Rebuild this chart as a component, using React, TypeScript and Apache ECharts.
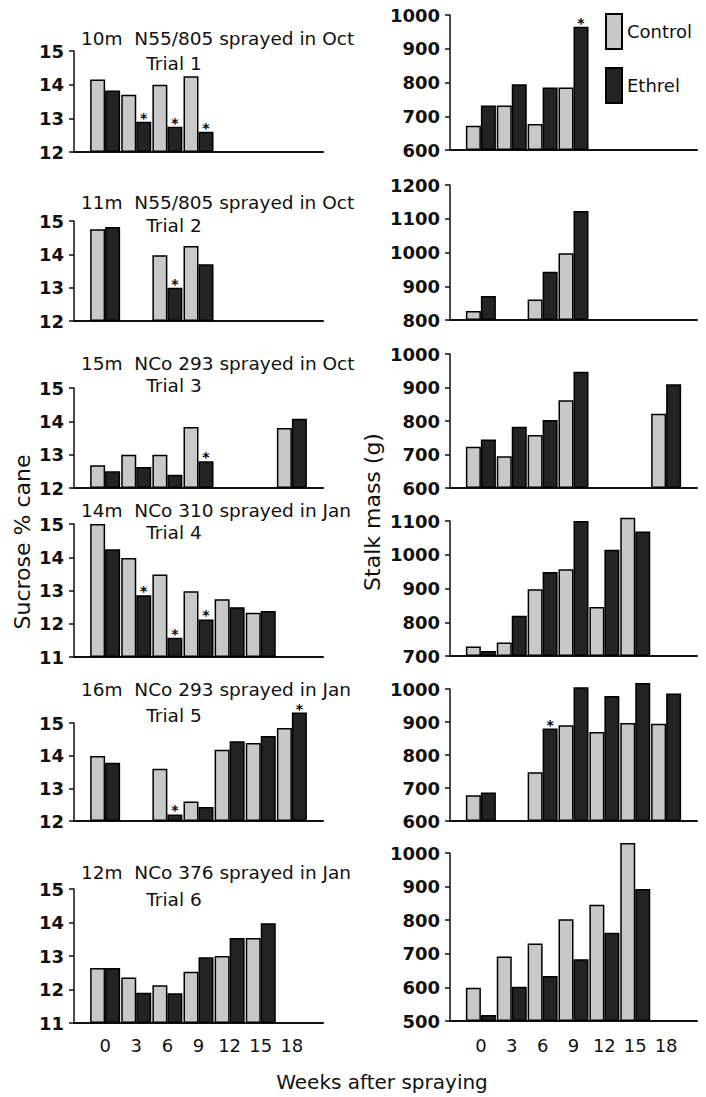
import React, { useEffect, useRef } from "react";
import * as echarts from "echarts";

const weeks = [0, 3, 6, 9, 12, 15, 18];

const trialTitles = [
  "10m  N55/805 sprayed in Oct",
  "11m  N55/805 sprayed in Oct",
  "15m  NCo 293 sprayed in Oct",
  "14m  NCo 310 sprayed in Jan",
  "16m  NCo 293 sprayed in Jan",
  "12m  NCo 376 sprayed in Jan",
];
const trialNames = ["Trial 1", "Trial 2", "Trial 3", "Trial 4", "Trial 5", "Trial 6"];

// Sucrose % cane, one value per week (null = not sampled)
const sucroseControl1 = [14.15, 13.7, 14.0, 14.25, null, null, null];
const sucroseEthrel1 = [13.83, 12.9, 12.75, 12.6, null, null, null];
const sucroseControl2 = [14.75, null, 13.97, 14.25, null, null, null];
const sucroseEthrel2 = [14.82, null, 13.0, 13.7, null, null, null];
const sucroseControl3 = [12.68, 13.0, 13.0, 13.83, null, null, 13.8];
const sucroseEthrel3 = [12.5, 12.63, 12.4, 12.8, null, null, 14.08];
const sucroseControl4 = [15.0, 13.98, 13.48, 12.98, 12.74, 12.33, null];
const sucroseEthrel4 = [14.24, 12.86, 11.58, 12.13, 12.5, 12.38, null];
const sucroseControl5 = [13.99, null, 13.6, 12.6, 14.18, 14.39, 14.85];
const sucroseEthrel5 = [13.78, null, 12.2, 12.43, 14.44, 14.6, 15.32];
const sucroseControl6 = [12.64, 12.36, 12.13, 12.53, 13.0, 13.54, null];
const sucroseEthrel6 = [12.64, 11.9, 11.89, 12.96, 13.54, 13.98, null];

// Stalk mass (g)
const massControl1 = [672, 732, 677, 785, null, null, null];
const massEthrel1 = [732, 795, 785, 965, null, null, null];
const massControl2 = [827, null, 861, 998, null, null, null];
const massEthrel2 = [871, null, 943, 1123, null, null, null];
const massControl3 = [723, 695, 758, 862, null, null, 822];
const massEthrel3 = [745, 783, 803, 947, null, null, 910];
const massControl4 = [728, 740, 898, 957, 845, 1110, null];
const massEthrel4 = [715, 819, 949, 1100, 1015, 1069, null];
const massControl5 = [678, null, 748, 890, 870, 897, 895];
const massEthrel5 = [686, null, 880, 1005, 979, 1018, 986];
const massControl6 = [599, 692, 731, 803, 846, 1030, null];
const massEthrel6 = [518, 602, 634, 684, 763, 893, null];

// weeks at which the Ethrel value is significantly different (*)
const sucroseSig = [[3, 6, 9], [6], [9], [3, 6, 9], [6, 18], []];
const massSig = [[9], [], [], [], [6], []];

// axis ranges [min, max, interval]
const sucroseAxes = [
  [12, 15, 1], [12, 15, 1], [12, 15, 1], [11, 15, 1], [12, 15, 1], [11, 15, 1],
];
const massAxes = [
  [600, 1000, 100], [800, 1200, 100], [600, 1000, 100], [700, 1100, 100], [600, 1000, 100], [500, 1000, 100],
];

const sucroseControl = [sucroseControl1, sucroseControl2, sucroseControl3, sucroseControl4, sucroseControl5, sucroseControl6];
const sucroseEthrel = [sucroseEthrel1, sucroseEthrel2, sucroseEthrel3, sucroseEthrel4, sucroseEthrel5, sucroseEthrel6];
const massControl = [massControl1, massControl2, massControl3, massControl4, massControl5, massControl6];
const massEthrel = [massEthrel1, massEthrel2, massEthrel3, massEthrel4, massEthrel5, massEthrel6];

const FONT = "DejaVu Sans";
const INK = "#111";
const CONTROL_FILL = "#c8c8c8";
const ETHREL_FILL = "#232323";

// layout: [top, bottom] of each plot
const leftBox = [[51, 152], [221, 321], [388, 488], [524, 657], [723, 821], [889, 1023]];
const rightBox = [[15, 150], [185, 320], [354, 488], [521, 656], [689, 821], [853, 1021]];
const titleY = [38, 202, 363, 510, 689, 872];
const trialY = [63, 225, 385, 532, 715, 899];

function buildOption() {
  const grids: any[] = [];
  const xAxes: any[] = [];
  const yAxes: any[] = [];
  const series: any[] = [];

  const addPanel = (
    box: number[], left: number, width: number, range: number[], isBottom: boolean,
    ctrl: (number | null)[], eth: (number | null)[], sig: number[], labelMargin: number
  ) => {
    const idx = grids.length;
    grids.push({ left, top: box[0], width, height: box[1] - box[0] });
    xAxes.push({
      type: "value", gridIndex: idx, min: -3, max: 21, interval: 3,
      axisLine: { show: true, onZero: false, lineStyle: { color: INK, width: 2 } },
      axisTick: { show: false }, splitLine: { show: false },
      axisLabel: {
        show: isBottom, margin: labelMargin, color: INK, fontSize: 18, fontFamily: FONT,
        formatter: (v: number) => (v >= 0 && v <= 18 ? String(v) : ""),
      },
    });
    yAxes.push({
      type: "value", gridIndex: idx, min: range[0], max: range[1], interval: range[2],
      startValue: range[0],
      axisLine: { show: true, onZero: false, lineStyle: { color: INK, width: 1.5 } },
      axisTick: { show: true, inside: false, length: 5, lineStyle: { color: INK, width: 1.5 } },
      splitLine: { show: false },
      axisLabel: {
        margin: 10, color: INK, fontSize: 18, fontWeight: "bold", fontFamily: FONT,
        formatter: (v: number) => String(v),
      },
    });
    const mk = (vals: (number | null)[], withSig: boolean) =>
      weeks
        .map((w, k) => {
          const v = vals[k];
          if (v == null) return null;
          const item: any = { value: [w, v] };
          if (withSig && sig.indexOf(w) >= 0) item.label = { show: true };
          return item;
        })
        .filter((d) => d !== null);
    const common = {
      type: "bar", xAxisIndex: idx, yAxisIndex: idx, barWidth: 15, barGap: "0%", clip: false,
      label: { show: false, position: "top", formatter: "*", distance: -3, fontSize: 14, color: "#000", fontFamily: FONT, fontWeight: "bold" },
    };
    series.push({
      ...common, name: "Control", data: mk(ctrl, false),
      itemStyle: { color: CONTROL_FILL, borderColor: "#000", borderWidth: 1.5 },
    });
    series.push({
      ...common, name: "Ethrel", data: mk(eth, true),
      itemStyle: { color: ETHREL_FILL, borderColor: "#000", borderWidth: 1.5 },
    });
  };

  for (let i = 0; i < 6; i++) {
    addPanel(leftBox[i], 74, 249, sucroseAxes[i], i === 5, sucroseControl[i], sucroseEthrel[i], sucroseSig[i], 13);
  }
  for (let i = 0; i < 6; i++) {
    addPanel(rightBox[i], 450, 247, massAxes[i], i === 5, massControl[i], massEthrel[i], massSig[i], 15);
  }

  const graphics: any[] = [];
  for (let i = 0; i < 6; i++) {
    graphics.push({
      type: "text", x: 81, y: titleY[i],
      style: { text: trialTitles[i], fontSize: 18.5, fontFamily: FONT, fill: INK, align: "left", verticalAlign: "middle", textAlign: "left", textVerticalAlign: "middle" },
    });
    graphics.push({
      type: "text", x: 174, y: trialY[i],
      style: { text: trialNames[i], fontSize: 18.5, fontFamily: FONT, fill: INK, align: "center", verticalAlign: "middle", textAlign: "center", textVerticalAlign: "middle" },
    });
  }
  graphics.push({
    type: "text", x: 22, y: 542, rotation: Math.PI / 2,
    style: { text: "Sucrose % cane", fontSize: 22, fontFamily: FONT, fill: INK, align: "center", verticalAlign: "middle", textAlign: "center", textVerticalAlign: "middle" },
  });
  graphics.push({
    type: "text", x: 372, y: 512, rotation: Math.PI / 2,
    style: { text: "Stalk mass (g)", fontSize: 22, fontFamily: FONT, fill: INK, align: "center", verticalAlign: "middle", textAlign: "center", textVerticalAlign: "middle" },
  });
  graphics.push({
    type: "text", x: 382, y: 1082,
    style: { text: "Weeks after spraying", fontSize: 20, fontFamily: FONT, fill: INK, align: "center", verticalAlign: "middle", textAlign: "center", textVerticalAlign: "middle" },
  });

  return {
    animation: false,
    backgroundColor: "#fff",
    textStyle: { fontFamily: FONT },
    grid: grids,
    xAxis: xAxes,
    yAxis: yAxes,
    series,
    legend: {
      data: ["Control", "Ethrel"], left: 605, top: 13, padding: 0, orient: "vertical",
      itemWidth: 16, itemHeight: 35, itemGap: 17, icon: "rect", selectedMode: false,
      textStyle: { fontSize: 18, fontFamily: FONT, color: INK },
    },
    graphic: graphics,
  };
}

export default function App() {
  const ref = useRef<HTMLDivElement>(null);
  useEffect(() => {
    if (!ref.current) return;
    const chart = echarts.init(ref.current, undefined, { renderer: "svg" });
    chart.setOption(buildOption() as any);
    return () => chart.dispose();
  }, []);
  return (
    <div
      ref={ref}
      style={{ position: "absolute", left: 0, top: 0, width: 706, height: 1097, background: "#fff" }}
    />
  );
}
